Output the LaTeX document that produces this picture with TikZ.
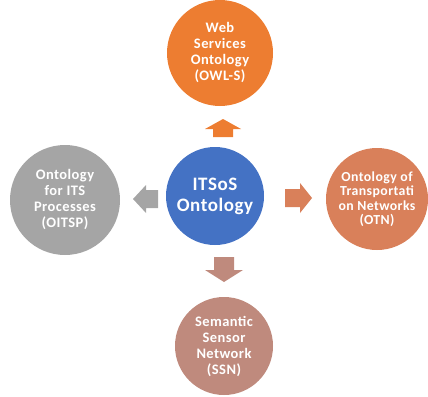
\documentclass[tikz,border=0pt]{standalone}
\usepackage{fontspec}
\setmainfont{Carlito}[LetterSpace=3]
\definecolor{corange}{HTML}{ED7D31}
\definecolor{cgray}{HTML}{A5A5A5}
\definecolor{cblue}{HTML}{4472C4}
\definecolor{cright}{HTML}{D9805A}
\definecolor{cbottom}{HTML}{BF8A7D}
\tikzset{
  bub/.style={circle, inner sep=0pt, text=white, align=center,
    font=\bfseries\fontsize{14.5}{16}\selectfont}
}
\begin{document}
\begin{tikzpicture}[x=1pt,y=-1pt]
\useasboundingbox (0,0) rectangle (428,396);
\node[bub, fill=corange, minimum size=106] (owls) at (220,53) {Web\\Services\\Ontology\\(OWL-S)};
\node[bub, fill=cgray, minimum size=110] (oitsp) at (65,200) {Ontology\\for ITS\\Processes\\(OITSP)};
\node[bub, fill=cblue, minimum size=98, font=\bfseries\fontsize{19}{21}\selectfont] (itsos) at (215,196) {ITSoS\\Ontology};
\node[bub, fill=cright, minimum size=102, font=\bfseries\fontsize{13.8}{14.5}\selectfont] (otn) at (377,199) {Ontology of\\Transportati\\on Networks\\(OTN)};
\node[bub, fill=cbottom, minimum size=98] (ssn) at (224,346) {Semantic\\Sensor\\Network\\(SSN)};
% block arrows
\fill[corange] (223,119) -- (241,129) -- (233,129) -- (233,137) -- (213,137) -- (213,129) -- (205,129) -- cycle;
\fill[cgray] (133,199) -- (146,185) -- (146,190) -- (158,190) -- (158,208) -- (146,208) -- (146,213) -- cycle;
\fill[cright] (312,198) -- (300,183) -- (300,189) -- (285,189) -- (285,207) -- (300,207) -- (300,213) -- cycle;
\fill[cbottom] (224,282) -- (205,270) -- (214,270) -- (214,257) -- (234,257) -- (234,270) -- (243,270) -- cycle;
\end{tikzpicture}
\end{document}
